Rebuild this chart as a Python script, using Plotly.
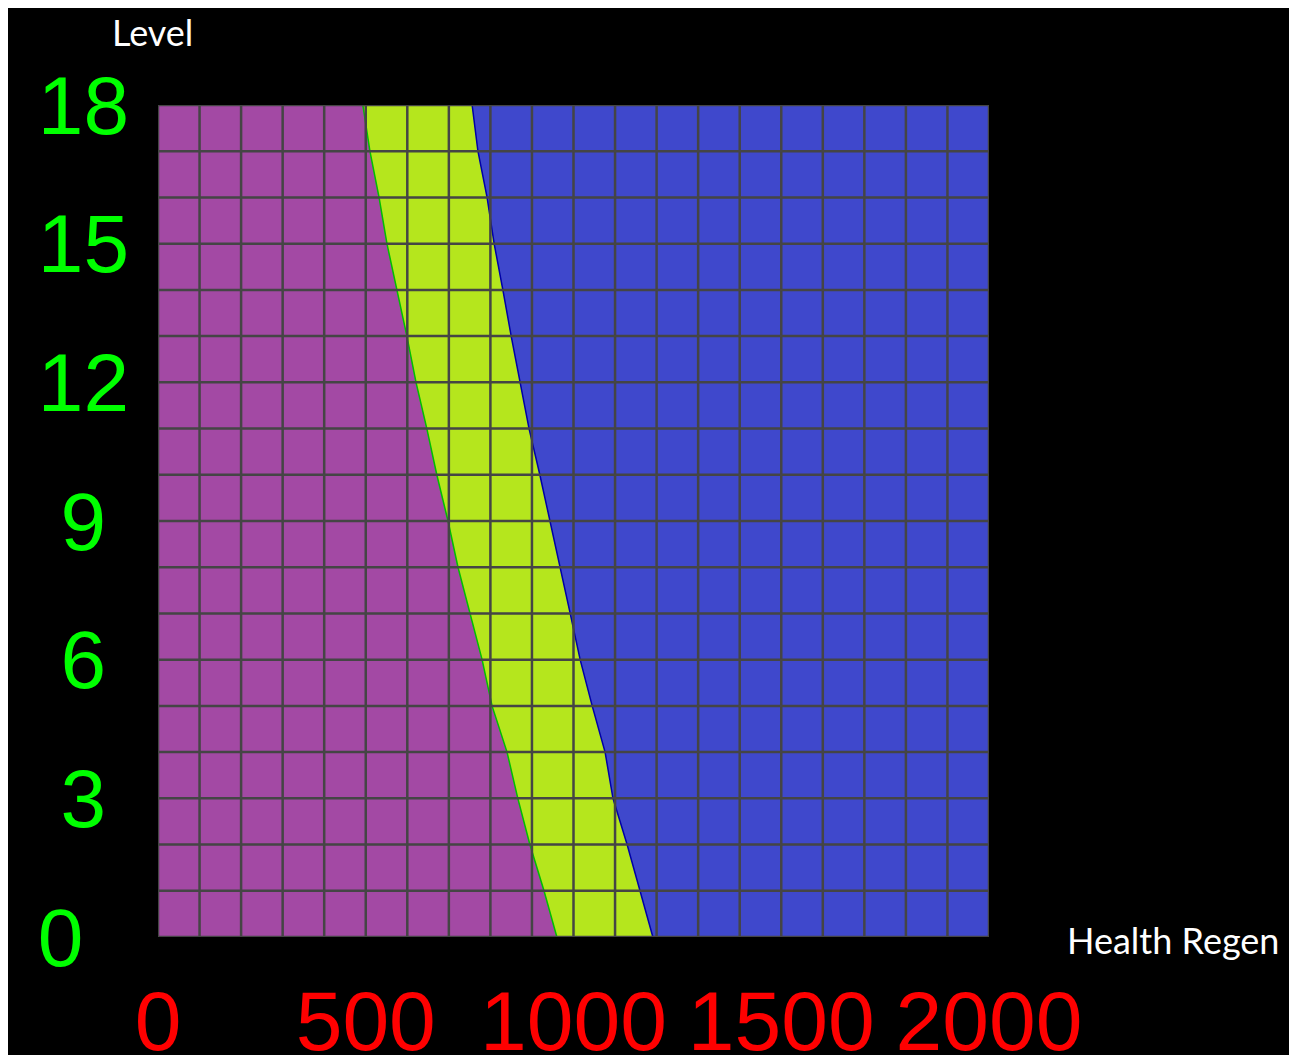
import plotly.graph_objects as go

# ---- data ----
levels = list(range(0, 19))
# Health Regen where purple region ends (purple / yellow boundary), per level 0..18
purple_edge = [960, 929, 895, 866, 840, 804, 780, 751, 722, 698,
               671, 647, 621, 599, 575, 551, 532, 510, 493]
# Health Regen where yellow region ends (yellow / blue boundary), per level 0..18
blue_edge = [1191, 1160, 1129, 1095, 1076, 1045, 1016, 992, 968, 943,
             919, 893, 871, 850, 830, 809, 792, 770, 756]

x_max = 2000
y_max = 18
x_ticks = [0, 500, 1000, 1500, 2000]
x_tick_text = ["0", "500", "1000", "1500", "2000"]
y_ticks = [0, 3, 6, 9, 12, 15, 18]
y_tick_text = ["0\u00a0\u00a0", "3\u00a0", "6\u00a0", "9\u00a0", "12", "15", "18"]
grid_x = list(range(0, 2001, 100))
grid_y = list(range(0, 19))

PURPLE = "#A349A4"
YELLOW = "#B5E61D"
BLUE = "#3F48CC"
GRID = "#454545"

fig = go.Figure()

# purple: from x=0 to purple_edge
fig.add_trace(go.Scatter(x=purple_edge, y=levels, mode="lines",
                         line=dict(color="#00C000", width=1.5),
                         fill="tozerox", fillcolor=PURPLE, hoverinfo="skip"))
# yellow: between purple_edge and blue_edge
fig.add_trace(go.Scatter(x=blue_edge, y=levels, mode="lines",
                         line=dict(color="#0000A8", width=1.5),
                         fill="tonextx", fillcolor=YELLOW, hoverinfo="skip"))
# blue: from blue_edge to x_max
fig.add_trace(go.Scatter(x=[x_max] * len(levels), y=levels, mode="lines",
                         line=dict(color=GRID, width=0),
                         fill="tonextx", fillcolor=BLUE, hoverinfo="skip"))

# grid lines drawn over the coloured areas
gx, gy = [], []
for v in grid_x:
    gx += [v, v, None]
    gy += [0, y_max, None]
for v in grid_y:
    gx += [0, x_max, None]
    gy += [v, v, None]
fig.add_trace(go.Scatter(x=gx, y=gy, mode="lines",
                         line=dict(color=GRID, width=2.5), hoverinfo="skip"))

fig.add_annotation(x=-0.007, y=1.088, xref="paper", yref="paper", text="Level",
                   showarrow=False, font=dict(family="Lato", size=36, color="white"),
                   xanchor="center", yanchor="middle")
fig.add_annotation(x=1.092, y=-0.004, xref="paper", yref="paper", text="Health Regen",
                   showarrow=False, font=dict(family="Lato", size=36, color="white"),
                   xanchor="left", yanchor="middle")

fig.update_layout(
    width=1282, height=1047,
    margin=dict(l=150, r=301, t=97, b=118),
    paper_bgcolor="black", plot_bgcolor="black",
    showlegend=False,
    xaxis=dict(range=[0, x_max], showgrid=False, zeroline=False, showline=False,
               automargin=False,
               tickvals=x_ticks, ticktext=x_tick_text, ticks="",
               tickfont=dict(family="Liberation Sans", size=84, color="#FF0000"),
               ticklabelstandoff=28),
    yaxis=dict(range=[0, y_max], showgrid=False, zeroline=False, showline=False,
               automargin=False,
               tickvals=y_ticks, ticktext=y_tick_text, ticks="",
               tickfont=dict(family="Liberation Sans", size=82, color="#00FF00"),
               ticklabelstandoff=28),
)

fig.write_html("out.html")
